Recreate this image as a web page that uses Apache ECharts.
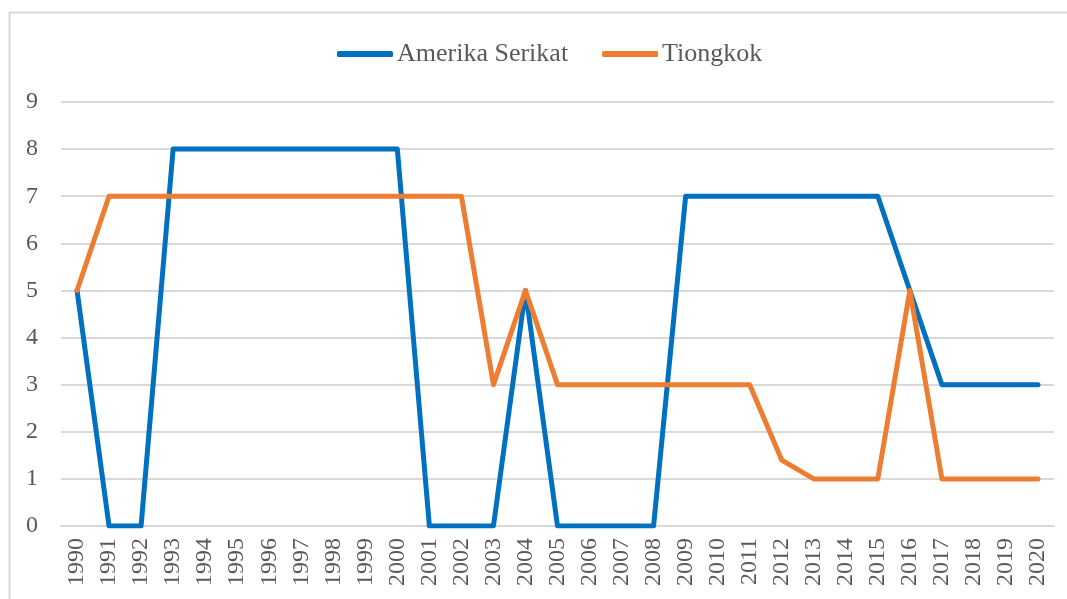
<!DOCTYPE html>
<html>
<head>
<meta charset="utf-8">
<script src="https://cdn.jsdelivr.net/npm/echarts@6/dist/echarts.min.js"></script>
<style>html,body{margin:0;padding:0;background:#fff;}#c{width:1067px;height:599px;}</style>
</head>
<body>
<div id="c"></div>
<script>
const years = ['1990','1991','1992','1993','1994','1995','1996','1997','1998','1999','2000','2001','2002','2003','2004','2005','2006','2007','2008','2009','2010','2011','2012','2013','2014','2015','2016','2017','2018','2019','2020'];
const usName = 'Amerika Serikat';
const cnName = 'Tiongkok';
const usValues = [5,0,0,8,8,8,8,8,8,8,8,0,0,0,5,0,0,0,0,7,7,7,7,7,7,7,5,3,3,3,3];
const cnValues = [5,7,7,7,7,7,7,7,7,7,7,7,7,3,5,3,3,3,3,3,3,3,1.4,1,1,1,5,1,1,1,1];
const yTicks = [0,1,2,3,4,5,6,7,8,9];

const FONT = '"Liberation Serif", "DejaVu Serif", serif';
const TXT = '#595959';
const chart = echarts.init(document.getElementById('c'), null, {renderer:'canvas'});
chart.setOption({
  backgroundColor: '#fff',
  animation: false,
  graphic: [{
    type: 'polyline',
    shape: { points: [[9.5, 620], [9.5, 12.5], [1080, 12.5]] },
    style: { stroke: '#d9d9d9', lineWidth: 2, fill: null }
  }],
  legend: {
    top: 36,
    left: 332,
    itemWidth: 56,
    itemHeight: 6,
    itemGap: 34,
    icon: 'roundRect',
    textStyle: { fontFamily: FONT, fontSize: 26, color: TXT, padding: [0,0,0,-1] },
    data: [usName, cnName]
  },
  grid: { left: 61, right: 13, top: 102, bottom: 73, containLabel: false },
  xAxis: {
    type: 'category',
    data: years,
    boundaryGap: true,
    axisLine: { show: true, lineStyle: { color: '#d9d9d9', width: 2 } },
    axisTick: { show: false },
    axisLabel: { rotate: 90, interval: 0, fontFamily: FONT, fontSize: 24, color: TXT, margin: 12 }
  },
  yAxis: {
    type: 'value',
    min: 0, max: 9, interval: 1,
    axisLine: { show: false },
    axisTick: { show: false },
    splitLine: { lineStyle: { color: '#d9d9d9', width: 2 } },
    axisLabel: { fontFamily: FONT, fontSize: 24, color: TXT, margin: 23,
      formatter: v => yTicks.includes(v) ? String(v) : '' }
  },
  series: [
    { name: usName, type: 'line', data: usValues, symbol: 'none',
      lineStyle: { color: '#0070C0', width: 5, cap: 'round', join: 'round' }, itemStyle: { color: '#0070C0' } },
    { name: cnName, type: 'line', data: cnValues, symbol: 'none',
      lineStyle: { color: '#ED7D31', width: 5, cap: 'round', join: 'round' }, itemStyle: { color: '#ED7D31' } }
  ]
});
</script>
</body>
</html>
